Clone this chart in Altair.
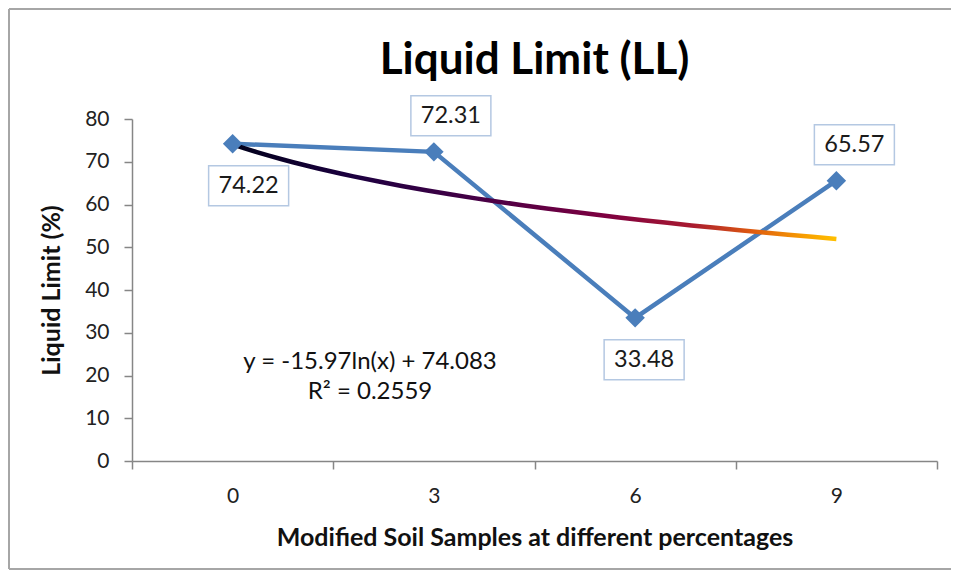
import altair as alt
import pandas as pd

# ---- data ----
categories = ["0", "3", "6", "9"]            # modified soil samples (%)
liquid_limit = [74.22, 72.31, 33.48, 65.57]  # LL (%)
y_ticks = [0, 10, 20, 30, 40, 50, 60, 70, 80]
equation_lines = ["y = -15.97ln(x) + 74.083", "R² = 0.2559"]
title_text = "Liquid Limit (LL)"
x_title = "Modified  Soil Samples at different percentages"
y_title = "Liquid Limit (%)"

# ---- style (not data) ----
label_dx = [16, 17, 9, 18]
label_dy = [42, -36, 42, -36]
W, H = 805, 342
PAD_R = 14
FONT = "Lato"
LINE_BLUE = "#4A7EBB"
AXIS_GREY = "#868686"
BORDER_GREY = "#A6A6A6"

n = list(range(1, len(categories) + 1))
df = pd.DataFrame({"n": n, "cat": categories, "ll": liquid_limit,
                   "lbl": [f"{v:.2f}" for v in liquid_limit]})

band_edges = [i + 0.5 for i in range(len(categories) + 1)]
cats_js = "[" + ",".join(f"'{c}'" for c in categories) + "]"

x_scale = alt.Scale(domain=[0.5, len(categories) + 0.5], nice=False, zero=False)
y_scale = alt.Scale(domain=[y_ticks[0], y_ticks[-1]], nice=False)

x_enc = alt.X("n:Q", scale=x_scale, axis=alt.Axis(
    values=band_edges, grid=False,
    labelExpr=f"datum.value < {len(categories)} ? {cats_js}[floor(datum.value)] : ''",
    labelOffset=W / len(categories) / 2, labelFlush=False, labelOverlap=False,
    labelBound=False, labelPadding=16, tickSize=8,
    title=x_title, titlePadding=19, titleFontSize=25, titleFont=FONT,
    titleFontWeight="bold", titleColor="#111",
))
y_enc = alt.Y("ll:Q", scale=y_scale, axis=alt.Axis(
    values=y_ticks, grid=False, tickSize=8, labelPadding=15,
    title=y_title, titlePadding=20, titleFontSize=25, titleFont=FONT,
    titleFontWeight="bold", titleColor="#111",
))

base = alt.Chart(df)

one = pd.DataFrame({"k": [0]})
border_top = alt.Chart(one).mark_rule(stroke=BORDER_GREY, strokeWidth=2).encode(
    x=alt.value(-123), x2=alt.value(W + PAD_R), y=alt.value(-110)
)
border_left = alt.Chart(one).mark_rule(stroke=BORDER_GREY, strokeWidth=2).encode(
    x=alt.value(-123), y=alt.value(-110), y2=alt.value(H + 108)
)
border_bottom = alt.Chart(one).mark_rule(stroke=BORDER_GREY, strokeWidth=2).encode(
    x=alt.value(-123), x2=alt.value(W + PAD_R), y=alt.value(H + 108)
)

series_line = base.mark_line(color=LINE_BLUE, strokeWidth=4.5).encode(x=x_enc, y=y_enc)

trend = base.transform_regression("n", "ll", method="log", extent=[1, len(categories)]).mark_line(
    strokeWidth=4.5,
    color=alt.LinearGradient(
        gradient="linear", x1=0, y1=0, x2=1, y2=0,
        stops=[
            alt.GradientStop(color="#00001A", offset=0),
            alt.GradientStop(color="#1C0040", offset=0.2),
            alt.GradientStop(color="#450046", offset=0.4),
            alt.GradientStop(color="#7E0040", offset=0.62),
            alt.GradientStop(color="#A81A30", offset=0.76),
            alt.GradientStop(color="#DE5A10", offset=0.86),
            alt.GradientStop(color="#F8A000", offset=0.95),
            alt.GradientStop(color="#FFC000", offset=1),
        ],
    ),
).encode(x="n:Q", y="ll:Q")

markers = base.mark_point(shape="diamond", filled=True, size=380, color=LINE_BLUE, opacity=1).encode(
    x="n:Q", y="ll:Q"
)

label_layers = []
box_shape = "M-1,-0.5L1,-0.5L1,0.5L-1,0.5Z"
for i, nv in enumerate(n):
    sub = base.transform_filter(alt.datum.n == nv)
    label_layers.append(sub.mark_point(
        shape=box_shape, size=80 * 80, filled=True, fill="white", stroke="#B4C8E2",
        strokeWidth=1.5, opacity=1, xOffset=label_dx[i], yOffset=label_dy[i],
    ).encode(x="n:Q", y="ll:Q"))
    label_layers.append(sub.mark_text(
        font=FONT, fontSize=23.5, color="#1a1a1a", dx=label_dx[i], dy=label_dy[i],
        baseline="middle", align="center",
    ).encode(x="n:Q", y="ll:Q", text="lbl:N"))

equation = alt.Chart(one).mark_text(
    font=FONT, fontSize=24, color="#111", align="center", baseline="middle", lineHeight=30,
).encode(x=alt.value(238), y=alt.value(243), text=alt.value(equation_lines))

title = alt.Chart(one).mark_text(
    font=FONT, fontSize=44, fontWeight="bold", color="black", align="center", baseline="alphabetic",
).encode(x=alt.value(W / 2), y=alt.value(-45), text=alt.value(title_text))

chart = alt.layer(
    border_top, border_left, border_bottom, series_line, trend, markers, *label_layers, equation, title
).properties(
    width=W, height=H,
    autosize=alt.AutoSizeParams(type="none"),
    padding={"left": 124, "top": 111, "right": PAD_R, "bottom": 110},
).configure_view(stroke=None).configure_axis(
    domainColor=AXIS_GREY, tickColor=AXIS_GREY, domainWidth=1.5, tickWidth=1.5,
    labelFont=FONT, labelFontSize=21, labelColor="#222",
)

chart.save("out.html", embed_options={"renderer": "svg", "actions": False})
